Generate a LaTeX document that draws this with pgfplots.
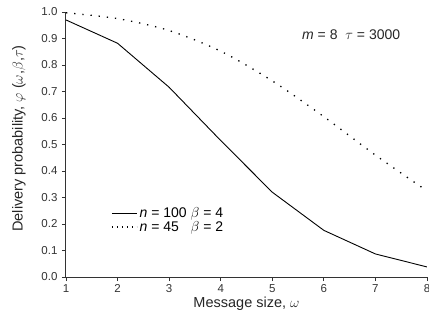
\documentclass[border=0pt]{standalone}
\usepackage{fontspec}
\setmainfont{Liberation Sans}
\usepackage{pgfplots}
\pgfplotsset{compat=1.18}
\begin{document}
\begin{tikzpicture}
\useasboundingbox (-66pt,-45pt) rectangle (363pt,277pt);
\begin{axis}[
  scale only axis, width=361pt, height=265pt,
  at={(0pt,0pt)}, anchor=south west,
  xmin=1, xmax=8, ymin=0, ymax=1,
  axis lines=left, axis line style={-, line width=1pt, black!80},
  xtick={1,...,8}, ytick={0,0.1,...,1.0},
  tick align=outside, tick style={black!80, line width=0.8pt},
  major tick length=4pt,
  /pgf/number format/assume math mode=true,
  yticklabel style={/pgf/number format/fixed, /pgf/number format/fixed zerofill, /pgf/number format/precision=1, font=\fontsize{11.5}{13}\selectfont, text=black!80, xshift=-1pt},
  xticklabel style={font=\fontsize{11.5}{13}\selectfont, text=black!80},
  xlabel={Message size, $\omega$},
  ylabel={Delivery probability, $\varphi$ ($\omega$,$\beta$,$\tau$)},
  label style={font=\fontsize{14.5}{16}\selectfont, text=black!85},
  xlabel style={at={(axis description cs:0.5,0)}, anchor=center, yshift=-27pt},
  ylabel style={at={(axis description cs:0,0.5)}, anchor=center, yshift=47pt, xshift=6pt},
  legend style={draw=none, fill=none, at={(0.125,0.266)}, anchor=north west, font=\fontsize{14}{16}\selectfont, row sep=0pt, inner xsep=0pt, inner ysep=0pt},
  legend cell align=left,
  legend style={nodes={inner xsep=2pt, inner ysep=1pt}},
  legend image code/.code={\draw[#1] (0pt,0pt) -- (25pt,0pt);},
]
\addplot[black, line width=0.9pt] coordinates {(1,0.970) (2,0.882) (3,0.716) (4,0.515) (5,0.320) (6,0.176) (7,0.087) (8,0.038)};
\addlegendentry{\textit{n} = 100 $\beta$ = 4}
\addplot[black, line width=1.3pt, dash pattern=on 1.3pt off 6.9pt, smooth, legend image post style={dash pattern=on 1.3pt off 3.7pt}] coordinates {(1,0.997) (2,0.975) (3,0.930) (4,0.852) (5,0.740) (6,0.605) (7,0.460) (8,0.325)};
\addlegendentry{\textit{n} = 45\ \ \ $\beta$ = 2}
\node[font=\fontsize{14}{16}\selectfont, text=black!85] at (axis cs:6.53,0.913) {\textit{m} = 8\ \ $\tau$ = 3000};
\end{axis}
\end{tikzpicture}
\end{document}
